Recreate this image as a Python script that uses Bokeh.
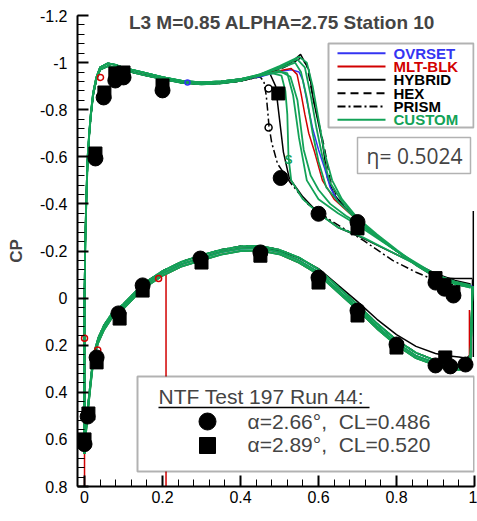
from bokeh.plotting import figure
from bokeh.models import Range1d, FixedTicker, BoxAnnotation, Label
from bokeh.embed import file_html
from bokeh.resources import INLINE

# ---------------- data ----------------
# Upper-surface leading edge and roof, shared x stations
roof_x = [0.0, 0.0, 0.002, 0.005, 0.008, 0.012, 0.016, 0.022, 0.03, 0.04,
          0.06, 0.08, 0.1, 0.15, 0.2, 0.25, 0.3, 0.35, 0.4]
roof_cp_a = [0.66, 0.0, -0.25, -0.45, -0.6, -0.7, -0.78, -0.87, -0.935, -0.98,
             -0.997, -0.99, -0.978, -0.958, -0.938, -0.922, -0.916, -0.92, -0.93]
roof_cp_b = [0.66, 0.0, -0.24, -0.43, -0.58, -0.69, -0.77, -0.86, -0.925, -0.97,
             -0.985, -0.98, -0.968, -0.948, -0.93, -0.914, -0.908, -0.912, -0.922]

# Upper surface, shock and aft section of each computation
ovr_up_x = [0.45, 0.5, 0.53, 0.55, 0.56, 0.57, 0.585, 0.6, 0.615, 0.63, 0.65,
            0.675, 0.7, 0.725, 0.75, 0.8, 0.85, 0.9, 0.95, 0.98, 0.995]
ovr_up_cp = [-0.94, -0.962, -0.97, -0.96, -0.925, -0.84, -0.72, -0.63, -0.555,
             -0.47, -0.41, -0.37, -0.33, -0.29, -0.26, -0.2, -0.145, -0.1,
             -0.07, -0.055, -0.05]

mlt_up_x = [0.45, 0.5, 0.53, 0.545, 0.555, 0.565, 0.575, 0.59, 0.61, 0.64,
            0.7, 0.75, 0.8, 0.85, 0.9, 0.95, 0.98, 0.99]
mlt_up_cp = [-0.945, -0.965, -0.975, -0.95, -0.87, -0.78, -0.7, -0.62, -0.5,
             -0.42, -0.33, -0.265, -0.2, -0.145, -0.1, -0.07, -0.055, -0.05]

hyb_up_x = [0.45, 0.5, 0.53, 0.554, 0.575, 0.587, 0.6, 0.61, 0.623, 0.64,
            0.67, 0.7, 0.75, 0.8, 0.85, 0.9, 0.95, 0.98, 0.995]
hyb_up_cp = [-0.94, -0.975, -1.0, -1.035, -0.97, -0.84, -0.74, -0.66, -0.51,
             -0.44, -0.38, -0.335, -0.265, -0.2, -0.14, -0.088, -0.083,
             -0.083, -0.083]

hyb2_up_x = [0.45, 0.475, 0.49, 0.5, 0.51, 0.525, 0.56, 0.6, 0.65, 0.7, 0.8,
             0.9, 0.95, 0.99]
hyb2_up_cp = [-0.945, -0.955, -0.9, -0.76, -0.62, -0.51, -0.43, -0.36, -0.3,
              -0.265, -0.185, -0.105, -0.075, -0.06]

hex_up_x = [0.45, 0.5, 0.53, 0.555, 0.57, 0.585, 0.6, 0.615, 0.63, 0.65, 0.7,
            0.75, 0.8, 0.85, 0.9, 0.95, 0.99]
hex_up_cp = [-0.945, -0.97, -0.995, -1.02, -0.99, -0.86, -0.75, -0.64, -0.5,
             -0.42, -0.335, -0.265, -0.2, -0.145, -0.095, -0.07, -0.055]

prism_up_x = [0.45, 0.46, 0.466, 0.47, 0.473, 0.48, 0.495, 0.528, 0.572,
              0.631, 0.715, 0.79, 0.85, 0.9, 0.95, 0.99]
prism_up_cp = [-0.94, -0.92, -0.86, -0.79, -0.73, -0.66, -0.57, -0.49, -0.4,
               -0.33, -0.245, -0.16, -0.11, -0.075, -0.055, -0.05]

cus1_up_x = [0.45, 0.48, 0.505, 0.515, 0.52, 0.523, 0.53, 0.56, 0.6, 0.65,
             0.715, 0.8, 0.9, 0.95, 0.99]
cus1_up_cp = [-0.945, -0.955, -0.945, -0.88, -0.78, -0.6, -0.5, -0.42, -0.36,
              -0.3, -0.257, -0.185, -0.1, -0.07, -0.055]
cus2_up_x = [0.45, 0.5, 0.52, 0.535, 0.55, 0.57, 0.6, 0.65, 0.7, 0.8, 0.9,
             0.95, 0.99]
cus2_up_cp = [-0.945, -0.96, -0.955, -0.86, -0.68, -0.5, -0.42, -0.36, -0.31,
              -0.2, -0.1, -0.068, -0.052]
cus3_up_x = [0.45, 0.5, 0.528, 0.546, 0.562, 0.58, 0.6, 0.63, 0.67, 0.7, 0.75,
             0.8, 0.85, 0.9, 0.95, 0.99]
cus3_up_cp = [-0.945, -0.965, -0.94, -0.84, -0.63, -0.52, -0.46, -0.4, -0.35,
              -0.32, -0.26, -0.2, -0.145, -0.095, -0.065, -0.05]
cus4_up_x = [0.45, 0.5, 0.54, 0.555, 0.57, 0.585, 0.6, 0.62, 0.65, 0.7, 0.75,
             0.8, 0.85, 0.9, 0.95, 0.99]
cus4_up_cp = [-0.95, -0.975, -1.0, -0.96, -0.85, -0.7, -0.58, -0.47, -0.41,
              -0.33, -0.26, -0.2, -0.145, -0.095, -0.065, -0.05]
cus5_up_x = [0.45, 0.5, 0.545, 0.565, 0.58, 0.595, 0.61, 0.63, 0.66, 0.7,
             0.75, 0.8, 0.85, 0.9, 0.95, 0.99]
cus5_up_cp = [-0.95, -0.98, -1.015, -0.98, -0.86, -0.72, -0.6, -0.49, -0.41,
              -0.335, -0.265, -0.2, -0.14, -0.09, -0.06, -0.045]
cus6_up_x = [0.45, 0.5, 0.55, 0.57, 0.585, 0.6, 0.615, 0.635, 0.66, 0.7, 0.75,
             0.8, 0.85, 0.9, 0.95, 0.99]
cus6_up_cp = [-0.95, -0.985, -1.025, -1.0, -0.9, -0.76, -0.62, -0.5, -0.42,
              -0.34, -0.27, -0.205, -0.145, -0.09, -0.06, -0.045]

# Lower surface, shared x stations
low_x = [0.0, 0.003, 0.008, 0.015, 0.023, 0.035, 0.05, 0.07, 0.1, 0.15, 0.2,
         0.25, 0.3, 0.35, 0.4, 0.45, 0.5, 0.55, 0.6, 0.65, 0.7, 0.75, 0.8,
         0.85, 0.9, 0.93, 0.96, 0.98, 0.99, 0.995]
low_cp_a = [0.66, 0.58, 0.48, 0.37, 0.25, 0.18, 0.125, 0.075, 0.035, -0.05,
            -0.105, -0.145, -0.17, -0.195, -0.21, -0.212, -0.195, -0.16, -0.11,
            -0.035, 0.04, 0.12, 0.19, 0.245, 0.275, 0.29, 0.295, 0.285, 0.25,
            -0.05]
low_cp_b = [0.66, 0.57, 0.47, 0.36, 0.24, 0.17, 0.115, 0.065, 0.025, -0.06,
            -0.115, -0.155, -0.182, -0.205, -0.22, -0.222, -0.205, -0.172,
            -0.122, -0.048, 0.028, 0.108, 0.178, 0.232, 0.265, 0.28, 0.285,
            0.275, 0.24, -0.05]
low_cp_c = [0.66, 0.59, 0.49, 0.38, 0.26, 0.19, 0.135, 0.085, 0.045, -0.04,
            -0.095, -0.135, -0.16, -0.185, -0.2, -0.202, -0.186, -0.15, -0.1,
            -0.025, 0.05, 0.13, 0.2, 0.255, 0.285, 0.3, 0.305, 0.295, 0.26,
            -0.05]
low_cp_hyb = [0.66, 0.58, 0.48, 0.37, 0.25, 0.18, 0.125, 0.075, 0.035, -0.05,
              -0.105, -0.145, -0.172, -0.197, -0.212, -0.214, -0.2, -0.17,
              -0.125, -0.055, 0.015, 0.09, 0.155, 0.205, 0.235, 0.245, 0.25,
              0.255, 0.24, -0.08]

# Isolated segments in the MLT-BLK and HYBRID data
mlt_spike_x = [0.209, 0.209]
mlt_spike_cp = [-0.1, 0.85]
mlt_le_x = [0.0, 0.0]
mlt_le_cp = [0.64, 0.85]
mlt_te_x = [0.987, 0.987]
mlt_te_cp = [0.05, 0.27]
hyb_te_x = [0.997, 0.997]
hyb_te_cp = [0.25, -0.37]

# Line symbols
prism_sym_x = [0.472, 0.472]
prism_sym_cp = [-0.89, -0.724]
mlt_sym_x = [0.041, 0.19, 0.034, 0.0]
mlt_sym_cp = [-0.937, -0.083, 0.22, 0.17]
ovr_sym_x = [0.264]
ovr_sym_cp = [-0.915]
cus_sym_x = [0.523]
cus_sym_cp = [-0.585]

# NTF Test 197 Run 44, alpha = 2.66 deg
ntf266_x = [0.028, 0.049, 0.079, 0.1, 0.2, 0.503, 0.6, 0.7, 0.9, 0.923, 0.946,
            0.0, 0.008, 0.031, 0.087, 0.149, 0.297, 0.451, 0.6, 0.7, 0.8, 0.9,
            0.938, 0.977]
ntf266_cp = [-0.593, -0.852, -0.924, -0.937, -0.882, -0.51, -0.358, -0.323,
             -0.066, -0.04, -0.011,
             0.62, 0.503, 0.252, 0.065, -0.054, -0.168, -0.194, -0.087, 0.053,
             0.197, 0.286, 0.29, 0.282]
# NTF Test 197 Run 44, alpha = 2.89 deg
ntf289_x = [0.028, 0.051, 0.079, 0.1, 0.2, 0.497, 0.7, 0.9, 0.923, 0.946,
            0.0, 0.01, 0.031, 0.09, 0.149, 0.3, 0.451, 0.6, 0.7, 0.8, 0.925]
ntf289_cp = [-0.614, -0.873, -0.954, -0.958, -0.903, -0.869, -0.296, -0.085,
             -0.055, -0.025,
             0.6, 0.49, 0.273, 0.087, -0.032, -0.151, -0.18, -0.066, 0.074,
             0.21, 0.252]

series_names = ["OVRSET", "MLT-BLK", "HYBRID", "HEX", "PRISM", "CUSTOM"]
y_ticks = [-1.2, -1.0, -0.8, -0.6, -0.4, -0.2, 0.0, 0.2, 0.4, 0.6, 0.8]
y_tick_labels = ["-1.2", "-1", "-0.8", "-0.6", "-0.4", "-0.2", "0", "0.2",
                 "0.4", "0.6", "0.8"]
x_ticks = [0.0, 0.2, 0.4, 0.6, 0.8, 1.0]
x_tick_labels = ["0", "0.2", "0.4", "0.6", "0.8", "1"]

# ---------------- styling ----------------
BLUE = "#3434f2"
RED = "#d20000"
BLACK = "#000000"
GREEN = "#13a257"
series_colors = [BLUE, RED, BLACK, BLACK, BLACK, GREEN]
series_dash = ["solid", "solid", "solid", "8 5", "8 3 2 3", "solid"]
FONT = "Liberation Sans"

W, H = 477, 521
FL, FR, FT, FB = 77, 3, 15, 35
X0, X1 = -0.018, 1.0
YT, YB = -1.2, 0.8
PXX = (W - FL - FR) / (X1 - X0)
PXY = (H - FT - FB) / (YB - YT)


def sx(px):
    return X0 + (px - FL) / PXX


def sy(py):
    return YT + (py - FT) / PXY


p = figure(width=W, height=H, output_backend="svg", toolbar_location=None,
           x_range=Range1d(X0, X1), y_range=Range1d(YB, YT),
           min_border_left=FL, min_border_right=FR, min_border_top=FT,
           min_border_bottom=FB, title=None)
p.outline_line_color = None
p.grid.visible = False
p.background_fill_color = "white"
p.border_fill_color = "white"

for ax in (p.xaxis[0], p.yaxis[0]):
    ax.axis_line_width = 2
    ax.major_tick_line_width = 2
    ax.minor_tick_line_width = 1
    ax.major_tick_out = 0
    ax.minor_tick_out = 0
    ax.major_label_text_font = FONT
    ax.major_label_text_font_size = "16px"
    ax.major_label_text_color = "black"

p.yaxis.ticker = FixedTicker(ticks=y_ticks,
                             minor_ticks=[round(-1.2 + 0.04 * i, 2) for i in range(51)])
p.yaxis.major_label_overrides = dict(zip(y_ticks, y_tick_labels))
p.yaxis.major_tick_in = 11
p.yaxis.minor_tick_in = 7
p.yaxis.major_label_standoff = 10
p.yaxis.axis_label = "CP"
p.yaxis.axis_label_text_font = FONT
p.yaxis.axis_label_text_font_style = "bold"
p.yaxis.axis_label_text_font_size = "17px"
p.yaxis.axis_label_standoff = 11

p.xaxis.ticker = FixedTicker(ticks=x_ticks,
                             minor_ticks=[round(0.04 * i, 2) for i in range(26)])
p.xaxis.major_label_overrides = dict(zip(x_ticks, x_tick_labels))
p.xaxis.major_tick_in = 11
p.xaxis.minor_tick_in = 7
p.xaxis.major_label_standoff = 4

# ---------------- CFD curves ----------------
def curve(x, cp, color, dash="solid", width=1.5):
    p.line(x, cp, line_color=color, line_dash=dash, line_width=width)


curve(roof_x + prism_up_x, roof_cp_b + prism_up_cp, BLACK, series_dash[4])
curve(low_x, low_cp_b, BLACK, series_dash[4])
curve(roof_x + hex_up_x, roof_cp_b + hex_up_cp, BLACK, series_dash[3])
curve(low_x, low_cp_b, BLACK, series_dash[3])
curve(roof_x + hyb_up_x, roof_cp_b + hyb_up_cp, BLACK)
curve(roof_x + hyb2_up_x, roof_cp_b + hyb2_up_cp, BLACK)
curve(low_x, low_cp_hyb, BLACK)
curve(hyb_te_x, hyb_te_cp, BLACK)
curve(roof_x + ovr_up_x, roof_cp_a + ovr_up_cp, BLUE)
curve(low_x, low_cp_a, BLUE)
curve(roof_x + mlt_up_x, roof_cp_a + mlt_up_cp, RED)
curve(low_x, low_cp_c, RED)
curve(mlt_spike_x, mlt_spike_cp, RED)
curve(mlt_le_x, mlt_le_cp, RED)
curve(mlt_te_x, mlt_te_cp, RED)

custom_up = [(cus1_up_x, cus1_up_cp), (cus2_up_x, cus2_up_cp),
             (cus3_up_x, cus3_up_cp), (cus4_up_x, cus4_up_cp),
             (cus5_up_x, cus5_up_cp), (cus6_up_x, cus6_up_cp)]
custom_roof = [roof_cp_a, roof_cp_b, roof_cp_a, roof_cp_b, roof_cp_a, roof_cp_a]
custom_low = [low_cp_a, low_cp_b, low_cp_c, low_cp_a, low_cp_b, low_cp_c]
for (ux, ucp), rcp, lcp in zip(custom_up, custom_roof, custom_low):
    curve(roof_x + ux, rcp + ucp, GREEN, width=1.8)
    curve(low_x, lcp, GREEN, width=1.8)

# symbols along the computed curves
p.scatter(prism_sym_x, prism_sym_cp, marker="circle", size=7,
          fill_color=None, line_color=BLACK, line_width=1.5)
p.scatter(mlt_sym_x, mlt_sym_cp, marker="circle", size=6,
          fill_color=None, line_color=RED, line_width=1.5)
p.scatter(ovr_sym_x, ovr_sym_cp, marker="circle", size=5,
          fill_color=None, line_color=BLUE, line_width=1.5)
p.text(cus_sym_x, cus_sym_cp, text=["S"], text_color=GREEN,
       text_font_size="12px", text_font_style="bold",
       text_align="center", text_baseline="middle")

# ---------------- experiment ----------------
p.scatter(ntf289_x, ntf289_cp, marker="square", size=13, color=BLACK)
p.scatter(ntf266_x, ntf266_cp, marker="circle", size=15, color=BLACK)

# ---------------- annotations ----------------
p.add_layout(Label(x=sx(281.5), y=sy(22), text="L3 M=0.85 ALPHA=2.75 Station 10",
                   text_font=FONT, text_font_style="bold", text_font_size="19px",
                   text_align="center", text_baseline="middle"))

# legend
p.add_layout(BoxAnnotation(left=sx(328), right=sx(473), top=sy(43), bottom=sy(127),
                           fill_color="white", fill_alpha=1.0,
                           line_color="black", line_width=2))
rows = [52.7, 66, 79.3, 92.7, 106, 119.3]
for name, col, dash, ry in zip(series_names, series_colors, series_dash, rows):
    r = p.line([sx(337), sx(385)], [sy(ry), sy(ry)], line_color=col,
               line_dash=dash, line_width=2)
    r.level = "overlay"
    p.add_layout(Label(x=sx(393), y=sy(ry), text=name, text_color=col,
                       text_font=FONT, text_font_style="bold",
                       text_font_size="15px", text_baseline="middle"))

# eta box
p.add_layout(BoxAnnotation(left=sx(357), right=sx(470), top=sy(137), bottom=sy(173),
                           fill_color="white", fill_alpha=1.0,
                           line_color="black", line_width=1.5))
p.add_layout(Label(x=sx(414), y=sy(155), text="\u03b7= 0.5024",
                   text_font="Open Sans", text_font_size="21px",
                   text_align="center", text_baseline="middle"))

# test-data key
p.add_layout(BoxAnnotation(left=sx(137), right=sx(473.5), top=sy(376), bottom=sy(471),
                           fill_color="white", fill_alpha=1.0,
                           line_color="black", line_width=2))
p.add_layout(Label(x=sx(158), y=sy(396), text="NTF Test 197 Run 44:",
                   text_font=FONT, text_font_size="21px",
                   text_baseline="middle"))
u = p.line([sx(158), sx(369)], [sy(407), sy(407)], line_color="black", line_width=1.5)
u.level = "overlay"
k1 = p.scatter([sx(207)], [sy(421)], marker="circle", size=17, color=BLACK)
k1.level = "overlay"
k2 = p.scatter([sx(207)], [sy(445)], marker="square", size=16, color=BLACK)
k2.level = "overlay"
p.add_layout(Label(x=sx(247), y=sy(421), text="\u03b1=2.66\u00b0,\u00a0 CL=0.486",
                   text_font=FONT, text_font_size="21px", text_baseline="middle"))
p.add_layout(Label(x=sx(247), y=sy(444), text="\u03b1=2.89\u00b0,\u00a0 CL=0.520",
                   text_font=FONT, text_font_size="21px", text_baseline="middle"))

# x-axis title
p.add_layout(Label(x=sx(275.5), y=sy(512), text="X/C", text_font=FONT,
                   text_font_style="bold", text_font_size="18px",
                   text_align="center", text_baseline="middle"))

open("out.html", "w").write(file_html(p, INLINE))
